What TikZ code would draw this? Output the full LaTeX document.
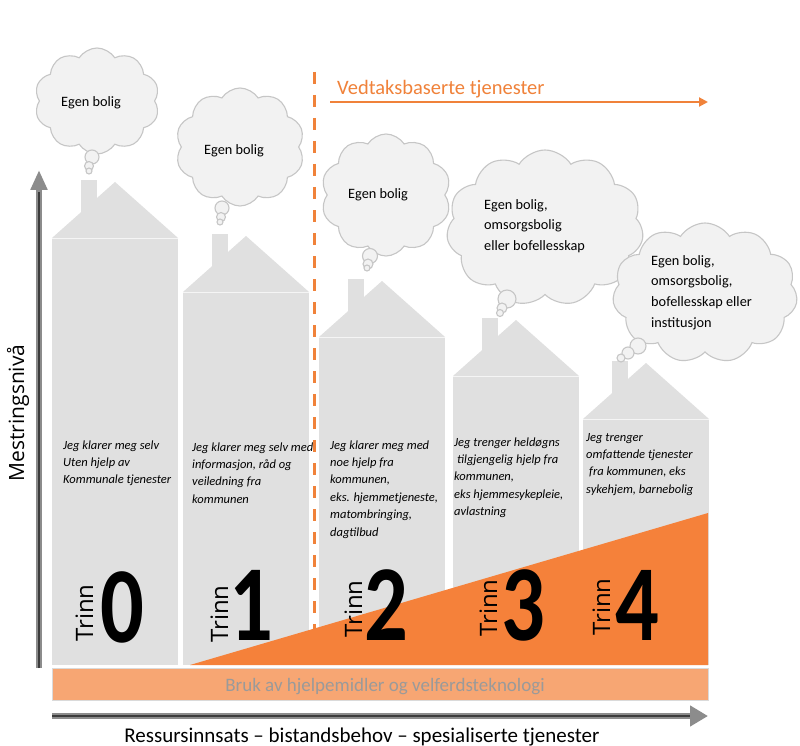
\documentclass[tikz,border=0pt]{standalone}
\usepackage{fontspec}
\setmainfont{Carlito}
\newfontfamily\opensans{Open Sans}
\usetikzlibrary{shapes.symbols,arrows.meta}

\definecolor{housegray}{HTML}{E0E0E0}
\definecolor{cloudfill}{HTML}{F2F2F2}
\definecolor{cloudline}{HTML}{C6C6C6}
\definecolor{accent}{HTML}{F0823A}
\definecolor{wedge}{HTML}{F5813A}
\definecolor{band}{HTML}{F7A673}
\definecolor{bandline}{HTML}{DADADA}
\definecolor{bandtext}{HTML}{9A9A9A}
\definecolor{axisouter}{HTML}{8C8C8C}
\definecolor{axisinner}{HTML}{3C3C3C}

% one house: left x, eave y
\newcommand{\drawhouse}[2]{%
  \fill[housegray] (#1,#2) rectangle (#1+126,665);
  \fill[housegray] (#1,#2) -- (#1+63,#2-56) -- (#1+126,#2) -- cycle;
  \fill[housegray] (#1+29,#2-58) rectangle (#1+45,#2-20);
  \draw[white,opacity=0.7,line width=0.6pt] (#1,#2) -- (#1+126,#2);
}

\tikzset{
  thought/.style={cloud, cloud puffs=10, cloud puff arc=115, cloud ignores aspect,
    draw=cloudline, fill=cloudfill, line width=1.1pt, inner sep=0pt},
  bubble/.style={draw=cloudline, fill=cloudfill, line width=1.1pt},
  cloudtext/.style={font=\fontsize{14.3}{20.7}\selectfont, inner sep=0pt, anchor=base west},
  housetext/.style={font=\fontsize{12.5}{17.4}\selectfont\itshape, inner sep=0pt, anchor=base west},
  trinn/.style={font=\opensans\fontsize{24}{24}\selectfont, rotate=90, inner sep=0pt, anchor=base west},
  digit/.style={font=\bfseries\fontsize{108}{108}\selectfont, inner sep=0pt, anchor=base, xscale=0.8},
}

\begin{document}
\begin{tikzpicture}[x=1pt,y=-1pt]
\fill[white] (0,0) rectangle (800,746);
\useasboundingbox (0,0) rectangle (800,746);

% houses
\drawhouse{52}{238}
\drawhouse{183}{292}
\drawhouse{319}{337}
\drawhouse{453}{376}
\drawhouse{583}{419}

% boundary of the decision-based services
\draw[accent, line width=3pt, dash pattern=on 12pt off 11pt] (314,72) -- (314,665);

% growing need for help
\fill[wedge] (190,665) -- (708,513) -- (708,665) -- cycle;

% thought clouds with their trailing bubbles
\node[thought, minimum width=125pt, minimum height=106pt] (c0) at (97,101) {};
\draw[bubble] (92,157) circle[radius=7pt];
\draw[bubble] (89,166) circle[radius=4.5pt];
\draw[bubble] (89,171) circle[radius=3pt];
\node[cloudtext] (e0) at (61,107) {Egen bolig};

\node[thought, minimum width=129pt, minimum height=118pt] (c1) at (240,147) {};
\draw[bubble] (222,208) circle[radius=7pt];
\draw[bubble] (221,217) circle[radius=4.5pt];
\draw[bubble] (220,222) circle[radius=3pt];
\node[cloudtext] (e1) at (204,155) {Egen bolig};

\node[thought, minimum width=130pt, minimum height=122pt] (c2) at (386,195) {};
\draw[bubble] (370,256) circle[radius=7.5pt];
\draw[bubble] (368,264) circle[radius=5pt];
\draw[bubble] (367,268) circle[radius=3pt];
\node[cloudtext] (e2) at (348,199) {Egen bolig};

\node[thought, cloud puffs=11, minimum width=197pt, minimum height=156pt] (c3) at (545,228) {};
\draw[bubble] (507,299) circle[radius=9pt];
\draw[bubble] (502,308) circle[radius=5pt];
\draw[bubble] (500,313) circle[radius=3.5pt];
\node[cloudtext] (e3) at (484,209) {\vtop{\hbox{Egen bolig,}\hbox{omsorgsbolig}\hbox{eller bofellesskap}}};

\node[thought, cloud puffs=11, minimum width=185pt, minimum height=140pt] (c4) at (705,293) {};
\draw[bubble] (638,346) circle[radius=8pt];
\draw[bubble] (628,353) circle[radius=6pt];
\draw[bubble] (621,358) circle[radius=4pt];
\node[cloudtext] (e4) at (651,265) {\vtop{\hbox{Egen bolig,}\hbox{omsorgsbolig,}\hbox{bofellesskap eller}\hbox{institusjon}}};

% descriptions of each step
\node[housetext] (t0) at (63,449) {\vtop{\hbox{Jeg klarer meg selv}\hbox{Uten hjelp av}\hbox{Kommunale tjenester}}};
\node[housetext] (t1) at (192,451) {\vtop{\hbox{Jeg klarer meg selv med}\hbox{informasjon, råd og}\hbox{veiledning fra}\hbox{kommunen}}};
\node[housetext] (t2) at (330,449) {\vtop{\hbox{Jeg klarer meg med}\hbox{noe hjelp fra}\hbox{kommunen,}\hbox{eks. hjemmetjeneste,}\hbox{matombringing,}\hbox{dagtilbud}}};
\node[housetext] (t3) at (454,446) {\vtop{\hbox{Jeg trenger heldøgns}\hbox{\hspace{3pt}tilgjengelig hjelp fra}\hbox{kommunen,}\hbox{eks hjemmesykepleie,}\hbox{avlastning}}};
\node[housetext] (t4) at (586,441) {\vtop{\hbox{Jeg trenger}\hbox{omfattende tjenester}\hbox{\hspace{3pt}fra kommunen, eks}\hbox{sykehjem, barnebolig}}};

% step labels
\node[trinn] (n0) at (93,642) {Trinn};
\node[trinn] (n1) at (228,643) {Trinn};
\node[trinn] (n2) at (362,638) {Trinn};
\node[trinn] (n3) at (497,637) {Trinn};
\node[trinn] (n4) at (610,636) {Trinn};
\node[digit] (d0) at (122,642) {0};
\node[digit] (d1) at (251,640) {1};
\node[digit] (d2) at (386,640) {2};
\node[digit] (d3) at (523,640) {3};
\node[digit] (d4) at (637,640) {4};

% assistive technology band
\node[draw=bandline, fill=band, line width=1.2pt, anchor=north west, inner sep=0pt,
      minimum width=656pt, minimum height=32pt] (bandbox) at (52,668) {};
\node[font=\fontsize{19}{19}\selectfont, text=bandtext, anchor=base, inner sep=0pt] (bandlabel)
      at (385,691) {Bruk av hjelpemidler og velferdsteknologi};

% decision-based services arrow
\node[font=\fontsize{20.5}{20.5}\selectfont, text=accent, anchor=base west, inner sep=0pt] (vedtak)
      at (337,95) {Vedtaksbaserte tjenester};
\coordinate (vs) at (330,102);
\coordinate (ve) at (708,102);
\draw[accent, line width=2pt, -{Triangle[length=9pt,width=9pt]}] (vs) -- (ve);

% axes
\coordinate (ybot) at (39,668);
\coordinate (ytop) at (39,170);
\coordinate (xleft) at (52,716);
\coordinate (xright) at (708,716);
\draw[axisouter, line width=6pt, -{Triangle[length=20pt,width=16pt]}] (ybot) -- (ytop);
\draw[axisinner, line width=2.4pt] (ybot) -- (39,192);
\draw[axisouter, line width=6pt, -{Triangle[length=18pt,width=20pt]}] (xleft) -- (xright);
\draw[axisinner, line width=2.4pt] (xleft) -- (690,716);

\node[font=\opensans\fontsize{21}{21}\selectfont, rotate=90, inner sep=0pt] (ylab) at (18,413) {Mestringsnivå};
\node[font=\fontsize{21}{21}\selectfont, anchor=base, inner sep=0pt] (xlab) at (362,742)
      {Ressursinnsats – bistandsbehov – spesialiserte tjenester};
\end{tikzpicture}
\end{document}
